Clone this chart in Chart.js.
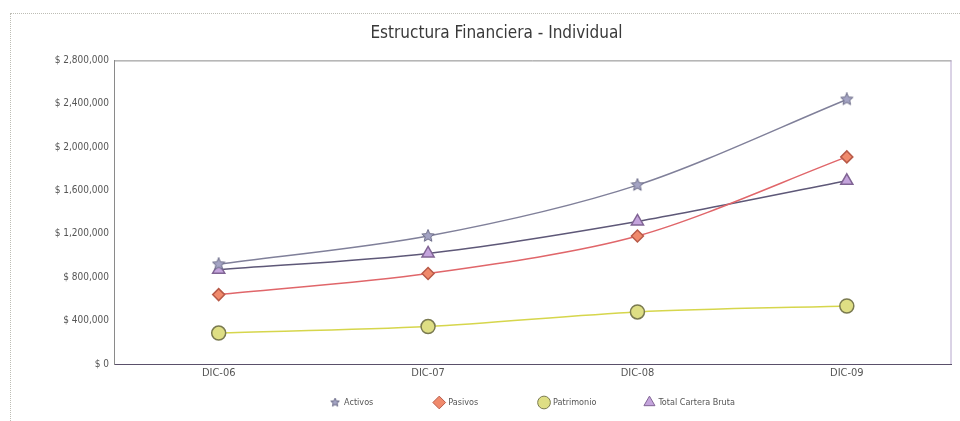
<!DOCTYPE html>
<html>
<head>
<meta charset="utf-8">
<script src="https://cdn.jsdelivr.net/npm/chart.js@4/dist/chart.umd.min.js"></script>
<style>
  html, body { margin: 0; padding: 0; background: #fff; overflow: hidden; width: 960px; height: 421px; }
  #frame { position: absolute; left: 10px; top: 13px; width: 1000px; height: 500px; border: 1px dotted #bdbdb5; }
  #wrap { position: absolute; left: 0; top: 0; width: 960px; height: 421px; }
</style>
</head>
<body>
<div id="frame"></div>
<div id="wrap"><canvas id="c" width="960" height="421"></canvas></div>
<script>
const categories = ["DIC-06", "DIC-07", "DIC-08", "DIC-09"];
const activos = [920000, 1180000, 1650000, 2440000];
const pasivos = [640000, 835000, 1180000, 1910000];
const patrimonio = [285000, 345000, 480000, 535000];
const totalCartera = [870000, 1020000, 1315000, 1690000];
const yTicks = [0, 400000, 800000, 1200000, 1600000, 2000000, 2400000, 2800000];

const FONT = "'DejaVu Sans Condensed', 'DejaVu Sans', Tahoma, sans-serif";

function makeStar(size, fill, stroke) {
  const cv = document.createElement('canvas');
  cv.width = size; cv.height = size;
  const g = cv.getContext('2d');
  const cx = size / 2, cy = size / 2, R = size / 2 - 0.5, r = R * 0.45;
  g.beginPath();
  for (let i = 0; i < 10; i++) {
    const a = -Math.PI / 2 + i * Math.PI / 5;
    const rr = i % 2 === 0 ? R : r;
    g.lineTo(cx + rr * Math.cos(a), cy + rr * Math.sin(a));
  }
  g.closePath();
  g.fillStyle = fill; g.fill();
  g.strokeStyle = stroke; g.lineWidth = 1; g.stroke();
  return cv;
}
const starImg = makeStar(14, '#a4a4c4', '#6c6c88');
const starLegend = makeStar(10, '#a4a4c4', '#6c6c88');

const frameBorder = {
  id: 'frameBorder',
  afterDatasetsDraw(chart) {
    const a = chart.chartArea, ctx = chart.ctx;
    ctx.save();
    ctx.lineWidth = 1;
    ctx.strokeStyle = '#8a8a8a';
    ctx.beginPath(); ctx.moveTo(a.left, a.top + 0.5); ctx.lineTo(a.right, a.top + 0.5); ctx.stroke();
    ctx.strokeStyle = '#b6a6cc';
    ctx.beginPath(); ctx.moveTo(a.right - 0.5, a.top); ctx.lineTo(a.right - 0.5, a.bottom); ctx.stroke();
    ctx.restore();
  }
};

const LEGEND_SLOT = 106;
const LEGEND_PAD = 10;
const LEGEND_FONT_SIZE = 9;

new Chart(document.getElementById('c'), {
  type: 'line',
  data: {
    labels: categories,
    datasets: [
      { label: 'Activos', data: activos, borderColor: '#80809a', backgroundColor: '#a4a4c4',
        pointStyle: starImg, borderWidth: 1.5, tension: 0.3 },
      { label: 'Pasivos', data: pasivos, borderColor: '#e0666a', backgroundColor: '#f08a6c',
        pointBorderColor: '#b85a48', pointStyle: 'rectRot', pointRadius: 6, borderWidth: 1.5, tension: 0.3 },
      { label: 'Patrimonio', data: patrimonio, borderColor: '#d6d64c', backgroundColor: '#dede84',
        pointBorderColor: '#7a7a50', pointStyle: 'circle', pointRadius: 7, borderWidth: 1.5, tension: 0.3 },
      { label: 'Total Cartera Bruta', data: totalCartera, borderColor: '#5e5878', backgroundColor: '#c4a4dc',
        pointBorderColor: '#806494', pointStyle: 'triangle', pointRadius: 7, borderWidth: 1.5, tension: 0.3 }
    ]
  },
  options: {
    responsive: false,
    animation: false,
    devicePixelRatio: 1,
    layout: { padding: { left: 38, right: 5, top: 0, bottom: 4 } },
    plugins: {
      title: {
        display: true, text: 'Estructura Financiera - Individual',
        color: '#3a3a3a', font: { family: FONT, size: 17, weight: 'normal' },
        padding: { top: 23, bottom: 17 }
      },
      legend: {
        position: 'bottom', fullSize: false,
        labels: {
          usePointStyle: true, boxWidth: 9, boxHeight: 9, padding: LEGEND_PAD,
          color: '#555', font: { family: FONT, size: LEGEND_FONT_SIZE },
          generateLabels(chart) {
            const items = Chart.defaults.plugins.legend.labels.generateLabels(chart);
            const ctx = chart.ctx;
            ctx.save();
            ctx.font = LEGEND_FONT_SIZE + 'px ' + FONT;
            items.forEach((it, i) => {
              if (it.datasetIndex === 0) it.pointStyle = starLegend;
              it.lineWidth = 1;
              if (i < items.length - 1) {
                let t = it.text;
                while (9 + LEGEND_FONT_SIZE / 2 + ctx.measureText(t + ' ').width + LEGEND_PAD <= LEGEND_SLOT) t += ' ';
                it.text = t;
              }
            });
            ctx.restore();
            return items;
          }
        }
      },
      tooltip: { enabled: false }
    },
    scales: {
      x: {
        offset: true,
        grid: { display: false, drawTicks: false },
        border: { display: true, color: '#5a506a', width: 1 },
        ticks: { color: '#555', font: { family: FONT, size: 11 }, padding: 3 },
        afterFit(s) { s.height = 24; }
      },
      y: {
        min: 0, max: 2800000,
        afterBuildTicks(s) { s.ticks = yTicks.map(v => ({ value: v })); },
        grid: { display: false, drawTicks: false },
        border: { display: true, color: '#8a8a8a', width: 1 },
        ticks: {
          color: '#555', font: { family: FONT, size: 10 }, padding: 5,
          callback: v => '$ ' + Number(v).toLocaleString('en-US')
        },
        afterFit(s) { s.width = 76; }
      }
    }
  },
  plugins: [frameBorder]
});
</script>
</body>
</html>
